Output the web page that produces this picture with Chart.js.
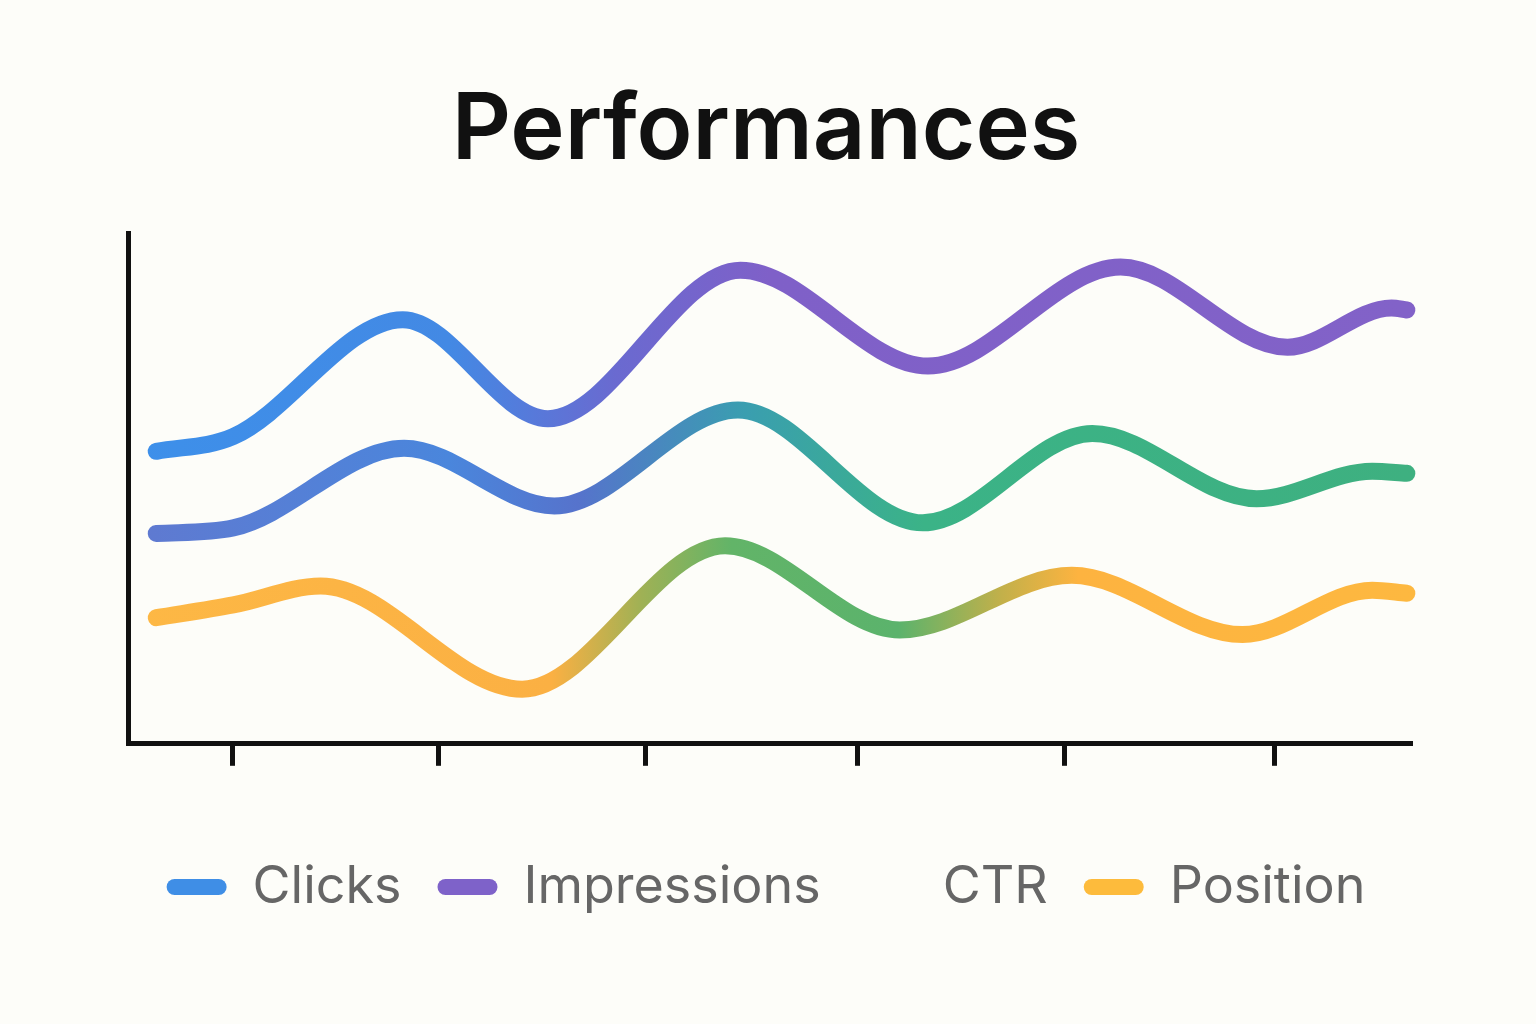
<!DOCTYPE html>
<html>
<head>
<meta charset="utf-8">
<script src="https://cdn.jsdelivr.net/npm/chart.js@4"></script>
<style>
  html, body { margin: 0; background: #fdfdf9; }
  #wrap { width: 1536px; height: 1024px; }
</style>
</head>
<body>
<div id="wrap"><canvas id="perfChart"></canvas></div>
<script>
// values (x 0..100 along the axis, y 0..100 up the axis)
const topX = [2.2, 8.2, 21.4, 32.7, 47.7, 62.3, 77.3, 90.3, 98.4, 99.6];
const topY = [57.3, 60.2, 83.1, 63.7, 92.8, 74.0, 93.4, 77.7, 85.4, 85.0];
const midX = [2.2, 8.2, 21.5, 33.2, 47.5, 61.9, 75.1, 87.9, 96.9, 99.6];
const midY = [41.2, 42.3, 57.9, 46.6, 65.4, 43.3, 60.8, 48.0, 53.4, 53.0];
const lowX = [2.2, 8.2, 15.0, 30.7, 46.5, 60.1, 73.5, 86.8, 96.9, 99.6];
const lowY = [24.7, 27.2, 30.9, 10.7, 38.8, 22.3, 33.0, 21.4, 30.1, 29.5];
const tickX = [8.1, 24.2, 40.3, 56.8, 72.9, 89.3];
const legendNames = ['Clicks', 'Impressions', 'CTR', 'Position'];
const legendColors = ['#3f8ee6', '#7e62c9', 'rgba(0,0,0,0)', '#fdbb3c'];

const pts = (xs, ys) => xs.map((x, i) => ({ x: x, y: ys[i] }));

function grad(stops) {
    return (c) => {
        const area = c.chart.chartArea;
        if (!area) return stops[0][1];
        const g = c.chart.ctx.createLinearGradient(area.left, 0, area.right, 0);
        stops.forEach(s => g.addColorStop(s[0], s[1]));
        return g;
    };
}

const lineStyle = {
    borderWidth: 17,
    borderCapStyle: 'round',
    pointRadius: 0,
    cubicInterpolationMode: 'monotone',
    fill: false
};

const ctx = document.getElementById('perfChart').getContext('2d');
const chart = new Chart(ctx, {
    type: 'line',
    data: {
        datasets: [
            Object.assign({ label: 'Top', data: pts(topX, topY),
                borderColor: grad([[0, '#3d90ea'], [0.25, '#4389e4'], [0.38, '#6a6ad0'], [0.5, '#7f60c8'], [1, '#8262c8']]) }, lineStyle),
            Object.assign({ label: 'Mid', data: pts(midX, midY),
                borderColor: grad([[0, '#6079d0'], [0.25, '#4a86dc'], [0.35, '#5673cc'], [0.48, '#3a9eb0'], [0.62, '#3bb387'], [1, '#3eb080']]) }, lineStyle),
            Object.assign({ label: 'Low', data: pts(lowX, lowY),
                borderColor: grad([[0, '#fdb845'], [0.33, '#fbb043'], [0.4, '#9fb155'], [0.47, '#62b468'], [0.6, '#5bb36c'], [0.68, '#c2b04a'], [0.74, '#fdb340'], [1, '#fdb840']]) }, lineStyle)
        ]
    },
    options: {
        responsive: true,
        maintainAspectRatio: false,
        animation: false,
        clip: false,
        layout: { padding: { left: 120, right: 124, bottom: 101 } },
        scales: {
            x: {
                type: 'linear', min: 0, max: 100,
                afterBuildTicks: (axis) => { axis.ticks = tickX.map(v => ({ value: v })); },
                border: { display: true, color: '#111', width: 5 },
                grid: { drawOnChartArea: false, drawTicks: true, tickLength: 22, tickColor: '#111', tickWidth: 5 },
                ticks: { display: false }
            },
            y: {
                min: 0, max: 100,
                border: { display: true, color: '#111', width: 5 },
                grid: { display: false },
                ticks: { display: false }
            }
        },
        plugins: {
            title: {
                display: true,
                text: 'Performances',
                color: '#111',
                font: { family: 'Inter', size: 92, weight: '600' },
                padding: { top: 76, bottom: 47 }
            },
            legend: {
                position: 'bottom',
                title: { display: true, text: ' ', font: { size: 1 }, padding: { top: 58, bottom: 0 } },
                labels: {
                    color: '#111',
                    font: { family: 'Inter', size: 52 },
                    boxWidth: 60,
                    boxHeight: 16,
                    padding: 36,
                    useBorderRadius: true,
                    borderRadius: 8,
                    generateLabels: () => legendNames.map((n, i) => ({
                        text: n, fillStyle: legendColors[i], strokeStyle: 'rgba(0,0,0,0)', lineWidth: 0, datasetIndex: i, borderRadius: 8
                    }))
                },
                onClick: null
            },
            tooltip: { enabled: false }
        }
    }
});
</script>
</body>
</html>
